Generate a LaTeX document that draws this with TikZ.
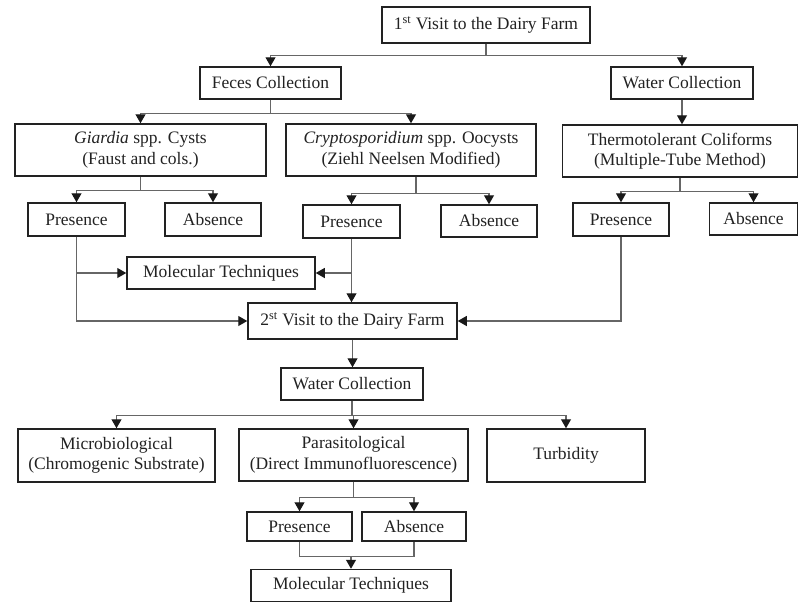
\documentclass[tikz,border=0pt]{standalone}
\usepackage{fontspec}
\setmainfont{Liberation Serif}
\usetikzlibrary{arrows.meta}
\definecolor{boxc}{HTML}{222222}
\definecolor{linec}{HTML}{666666}
\tikzset{
  box/.style={draw=boxc, line width=1.5pt, rectangle, inner sep=0pt, align=center,
    text=boxc, font=\fontsize{17.5}{20.5}\selectfont},
  conn/.style={draw=linec, line width=1.1pt},
  arr/.style={conn, -{Triangle[width=10pt,length=9pt,color=black!90]}}
}
\begin{document}
\begin{tikzpicture}[x=1pt,y=-1pt]
\useasboundingbox[fill=white] (0,0) rectangle (799,603);
% nodes
\node[box, minimum width=208, minimum height=36] (v1) at (486,25) {1\textsuperscript{st} Visit to the Dairy Farm};
\node[box, minimum width=141, minimum height=32] (feces) at (270.5,83) {Feces Collection};
\node[box, minimum width=142, minimum height=32] (water1) at (682,83) {Water Collection};
\node[box, minimum width=251, minimum height=52] (giardia) at (140.5,150) {\textit{Giardia} spp. Cysts\\(Faust and cols.)};
\node[box, minimum width=250, minimum height=52] (crypto) at (411,150) {\textit{Cryptosporidium} spp. Oocysts\\(Ziehl Neelsen Modified)};
\node[box, minimum width=235, minimum height=52] (thermo) at (680,151) {Thermotolerant Coliforms\\(Multiple-Tube Method)};
\node[box, minimum width=97, minimum height=33] (pres1) at (76.5,219.5) {Presence};
\node[box, minimum width=96, minimum height=33] (abs1) at (213,219.5) {Absence};
\node[box, minimum width=97, minimum height=33] (pres2) at (351.5,221.5) {Presence};
\node[box, minimum width=96, minimum height=32] (abs2) at (489,221) {Absence};
\node[box, minimum width=96, minimum height=33] (pres3) at (621,219.5) {Presence};
\node[box, minimum width=88, minimum height=32] (abs3) at (753.5,219) {Absence};
\node[box, minimum width=188, minimum height=32] (mol1) at (221,273) {Molecular Techniques};
\node[box, minimum width=209, minimum height=36] (v2) at (352.5,321) {2\textsuperscript{st} Visit to the Dairy Farm};
\node[box, minimum width=142, minimum height=32] (water2) at (352,384) {Water Collection};
\node[box, minimum width=197, minimum height=53] (micro) at (116.5,455.5) {Microbiological\\(Chromogenic Substrate)};
\node[box, minimum width=229, minimum height=52] (para) at (353.5,455) {Parasitological\\(Direct Immunofluorescence)};
\node[box, minimum width=158, minimum height=53] (turb) at (566,455.5) {Turbidity};
\node[box, minimum width=105, minimum height=29] (pres4) at (299.5,526.5) {Presence};
\node[box, minimum width=104, minimum height=29] (abs4) at (414,526.5) {Absence};
\node[box, minimum width=200, minimum height=32] (mol2) at (351,585.5) {Molecular Techniques};
% connectors
\draw[arr] (v1.south) -- ++(0,12) -| (feces.north);
\draw[arr] (v1.south) -- ++(0,12) -| (water1.north);
\draw[arr] (water1.south) -- (water1.south |- thermo.north);
\draw[arr] (feces.south) -- ++(0,14) -| (giardia.north);
\draw[arr] (feces.south) -- ++(0,14) -| (crypto.north);
\draw[arr] (giardia.south) -- ++(0,14) -| (pres1.north);
\draw[arr] (giardia.south) -- ++(0,14) -| (abs1.north);
\draw[arr] ([xshift=5pt]crypto.south) -- ++(0,17) -| (pres2.north);
\draw[arr] ([xshift=5pt]crypto.south) -- ++(0,17) -| (abs2.north);
\draw[arr] (thermo.south) -- ++(0,14) -| (pres3.north);
\draw[arr] (thermo.south) -- ++(0,14) -| (abs3.north);
\draw[arr] (pres1.south) |- (v2.west);
\draw[arr] (pres1.south |- mol1.west) -- (mol1.west);
\draw[arr] (pres2.south) -- (pres2.south |- v2.north);
\draw[arr] (pres2.south |- mol1.east) -- (mol1.east);
\draw[arr] (pres3.south) |- (v2.east);
\draw[arr] (v2.south) -- (v2.south |- water2.north);
\draw[arr] (water2.south) -- ++(0,15) -| (micro.north);
\draw[arr] (water2.south) -- ++(0,15) -| (para.north);
\draw[arr] (water2.south) -- ++(0,15) -| (turb.north);
\draw[arr] (para.south) -- ++(0,16) -| (pres4.north);
\draw[arr] (para.south) -- ++(0,16) -| (abs4.north);
\draw[conn] (pres4.south) -- ++(0,15) coordinate (j) -| (abs4.south);
\draw[arr] (j -| mol2.north) -- (mol2.north);
\end{tikzpicture}
\end{document}
